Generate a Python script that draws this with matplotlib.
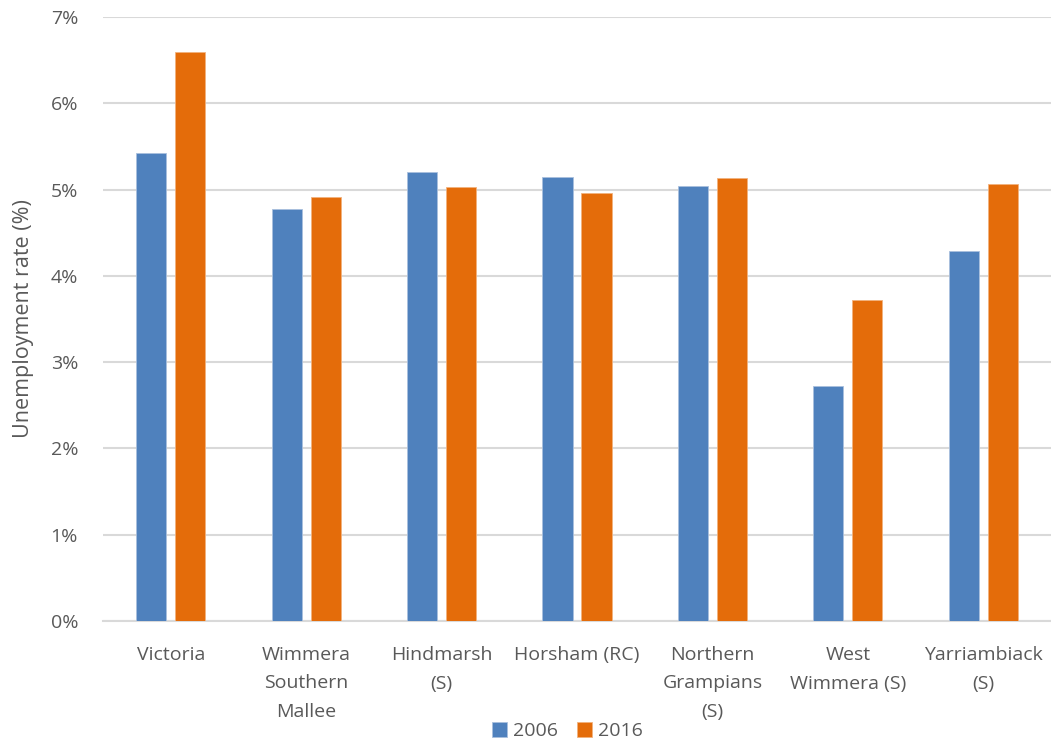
import numpy as np
import matplotlib.pyplot as plt
from matplotlib.ticker import FuncFormatter

# data (unemployment rate, %)
regions = ['Victoria', 'Wimmera\nSouthern\nMallee', 'Hindmarsh\n(S)', 'Horsham (RC)',
           'Northern\nGrampians\n(S)', 'West\nWimmera (S)', 'Yarriambiack\n(S)']
rate2006 = [5.42, 4.77, 5.20, 5.14, 5.04, 2.72, 4.29]
rate2016 = [6.59, 4.91, 5.03, 4.96, 5.13, 3.72, 5.07]

plt.rcParams['font.family'] = ['Open Sans', 'DejaVu Sans']
textColor = '#595959'
gridColor = '#d9d9d9'

fig = plt.figure(figsize=(10.51, 7.43), dpi=100)
ax = fig.add_axes([103 / 1051, 1 - 621 / 743, (1051 - 103) / 1051, (621 - 17) / 743])

x = np.arange(len(regions))
width = 0.222
offset = 0.144
ax.bar(x - offset, rate2006, width, color='#4f81bd', edgecolor='#a9c0de', linewidth=0.6, label='2006', zorder=3)
ax.bar(x + offset, rate2016, width, color='#e46c0a', edgecolor='#f2b27e', linewidth=0.6, label='2016', zorder=3)

ax.set_xlim(-0.5, len(regions) - 0.5)
ax.set_ylim(0, 7)
ax.set_yticks(np.arange(0, 8, 1))
ax.yaxis.set_major_formatter(FuncFormatter(lambda v, p: f'{v:.0f}%'))
ax.grid(axis='y', color=gridColor, linewidth=1.5, zorder=0)
ax.set_xticks(x)
ax.set_xticklabels(regions, linespacing=1.75, va='top')

for s in ['top', 'right', 'left']:
    ax.spines[s].set_visible(False)
ax.spines['bottom'].set_color(gridColor)
ax.spines['bottom'].set_linewidth(1.5)
ax.tick_params(axis='both', length=0, colors=textColor, labelsize=14)
ax.tick_params(axis='x', pad=18)
ax.tick_params(axis='y', pad=18)

ax.set_ylabel('Unemployment rate (%)', color=textColor, fontsize=15.5, labelpad=12)

fig.legend(loc='lower center', bbox_to_anchor=(0.54, -0.02), ncol=2, frameon=False,
           handlelength=0.75, handleheight=0.75, handletextpad=0.3, columnspacing=1.0,
           fontsize=14, labelcolor=textColor)

fig.savefig('out.png', dpi=100)
